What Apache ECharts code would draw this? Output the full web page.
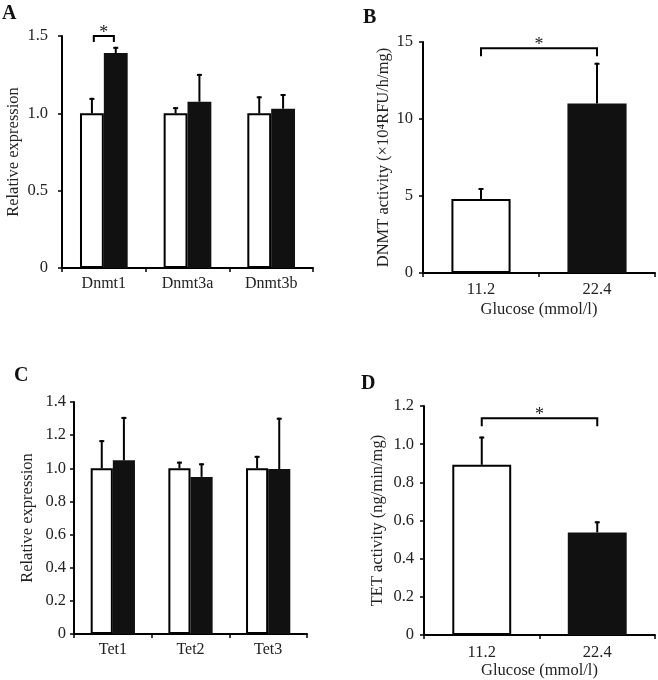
<!DOCTYPE html>
<html>
<head>
<meta charset="utf-8">
<script src="https://cdn.jsdelivr.net/npm/echarts@6/dist/echarts.min.js"></script>
<style>html,body{margin:0;padding:0;background:#fff}#c{width:658px;height:680px}</style>
</head>
<body>
<div id="c"></div>
<script>
// ---- Data ----
const dnmtCats = ['Dnmt1', 'Dnmt3a', 'Dnmt3b'];
const dnmtLow = [1.0, 1.0, 1.0];
const dnmtLowErr = [0.10, 0.04, 0.11];
const dnmtHigh = [1.39, 1.075, 1.03];
const dnmtHighErr = [0.04, 0.18, 0.095];
const dnmtSig = [[0, 1.5]];            // [category, bracket level]

const glucoseCats = ['11.2', '22.4'];
const dnmtActivity = [4.8, 11.0];
const dnmtActivityErr = [0.72, 2.65];
const dnmtActSig = [[0, 1, 14.6]];     // [from, to, level]

const tetCats = ['Tet1', 'Tet2', 'Tet3'];
const tetLow = [1.0, 1.0, 1.0];
const tetLowErr = [0.17, 0.04, 0.075];
const tetHigh = [1.048, 0.948, 0.995];
const tetHighErr = [0.262, 0.082, 0.31];

const tetActivity = [0.892, 0.538];
const tetActivityErr = [0.148, 0.058];
const tetActSig = [[0, 1, 1.136]];

const ticksA = [0, 0.5, 1.0, 1.5];
const ticksB = [0, 5, 10, 15];
const ticksC = [0, 0.2, 0.4, 0.6, 0.8, 1.0, 1.2, 1.4];
const ticksD = [0, 0.2, 0.4, 0.6, 0.8, 1.0, 1.2];

// ---- Styles ----
const FONT = '"Liberation Serif", "Times New Roman", serif';
const TXT = '#222';
const BLACK = '#111';

const chart = echarts.init(document.getElementById('c'));

function xAx(i, cats, opt) {
  return Object.assign({
    type: 'category', gridIndex: i, data: cats,
    axisLine: { show: true, lineStyle: { color: '#000', width: 2 } },
    axisTick: { show: true, length: 4, lineStyle: { color: '#000', width: 1.5 } },
    axisLabel: { fontFamily: FONT, fontSize: 16, color: TXT, margin: 8 },
    splitLine: { show: false }
  }, opt || {});
}
function yAx(i, ticks, name, gap, margin, fmt) {
  return {
    type: 'value', gridIndex: i, min: ticks[0], max: ticks[ticks.length - 1],
    interval: ticks[1] - ticks[0],
    name: name, nameLocation: 'middle', nameGap: gap,
    nameTextStyle: { fontFamily: FONT, fontSize: 16.5, color: TXT },
    axisLine: { show: true, lineStyle: { color: '#000', width: 2 } },
    axisTick: { show: true, length: 4, lineStyle: { color: '#000', width: 1.5 } },
    axisLabel: { fontFamily: FONT, fontSize: 16.5, color: TXT, margin: margin, formatter: fmt },
    splitLine: { show: false }
  };
}
const fmt1 = v => v === 0 ? '0' : v.toFixed(1);
const fmt0 = v => String(v);

function errSeries(ax, mean, err, offset) {
  return {
    type: 'custom', xAxisIndex: ax, yAxisIndex: ax, z: 5, silent: true,
    data: mean.map((m, i) => [i, m, err[i]]),
    encode: { x: 0, y: 1 },
    renderItem: function (p, api) {
      const i = api.value(0), m = api.value(1), e = api.value(2);
      const w = api.size([1, 0])[0];
      const b = api.coord([i, m]);
      const t = api.coord([i, m + e]);
      const x = b[0] + offset * w;
      return {
        type: 'group', children: [
          { type: 'line', shape: { x1: x, y1: b[1], x2: x, y2: t[1] }, style: { stroke: '#000', lineWidth: 2 } },
          { type: 'line', shape: { x1: x - 2.5, y1: t[1] + 1, x2: x + 2.5, y2: t[1] + 1 }, style: { stroke: '#000', lineWidth: 2 } }
        ]
      };
    }
  };
}

function bracket(x1, x2, y, leg) {
  return {
    type: 'group', children: [
      { type: 'polyline', shape: { points: [[x1, y + leg], [x1, y], [x2, y], [x2, y + leg]] },
        style: { stroke: '#000', lineWidth: 2, fill: null } },
      { type: 'text', x: (x1 + x2) / 2, y: y + 6,
        style: { text: '*', font: '18px ' + FONT, fill: TXT, align: 'center', verticalAlign: 'bottom' } }
    ]
  };
}

// within-category bracket (between the two bars of a group)
function sigWithin(ax, data, halfSpan) {
  return {
    type: 'custom', xAxisIndex: ax, yAxisIndex: ax, z: 6, silent: true,
    data: data, encode: { x: 0, y: 1 },
    renderItem: function (p, api) {
      const c = api.coord([api.value(0), api.value(1)]);
      const w = api.size([1, 0])[0];
      return bracket(c[0] - halfSpan * w, c[0] + halfSpan * w, c[1], 6);
    }
  };
}
// between-category bracket
function sigBetween(ax, data) {
  return {
    type: 'custom', xAxisIndex: ax, yAxisIndex: ax, z: 6, silent: true,
    data: data, encode: { x: 0, y: 2 },
    renderItem: function (p, api) {
      const a = api.coord([api.value(0), api.value(2)]);
      const b = api.coord([api.value(1), api.value(2)]);
      return bracket(a[0], b[0], a[1], 8);
    }
  };
}

const whiteStyle = { color: '#fff', borderColor: '#000', borderWidth: 2 };
const blackStyle = { color: BLACK, borderColor: BLACK, borderWidth: 0 };

function barPair(ax, low, high) {
  return [
    { type: 'bar', xAxisIndex: ax, yAxisIndex: ax, data: low, barWidth: '28.5%', barGap: '0%', itemStyle: whiteStyle, silent: true },
    { type: 'bar', xAxisIndex: ax, yAxisIndex: ax, data: high, barWidth: '28.5%', barGap: '0%', itemStyle: blackStyle, silent: true }
  ];
}
function barSingle(ax, vals) {
  return {
    type: 'bar', xAxisIndex: ax, yAxisIndex: ax, barWidth: '51%', silent: true,
    data: vals.map((v, i) => ({ value: v, itemStyle: i === 0 ? whiteStyle : blackStyle }))
  };
}

const letter = (t, x, y) => ({ type: 'text', left: x, top: y, style: { text: t, font: 'bold 20px ' + FONT, fill: BLACK } });

chart.setOption({
  animation: false,
  backgroundColor: '#fff',
  grid: [
    { left: 62, top: 36, width: 251, height: 232 },
    { left: 423, top: 42, width: 232, height: 231 },
    { left: 74, top: 402, width: 233, height: 232 },
    { left: 424, top: 406, width: 231, height: 230 }
  ],
  xAxis: [
    xAx(0, dnmtCats),
    xAx(1, glucoseCats, { name: 'Glucose (mmol/l)', nameLocation: 'middle', nameGap: 28,
      nameTextStyle: { fontFamily: FONT, fontSize: 16.5, color: TXT }, axisLabel: { fontFamily: FONT, fontSize: 16.5, color: TXT, margin: 8 } }),
    xAx(2, tetCats),
    xAx(3, glucoseCats, { name: 'Glucose (mmol/l)', nameLocation: 'middle', nameGap: 26,
      nameTextStyle: { fontFamily: FONT, fontSize: 16.5, color: TXT }, axisLabel: { fontFamily: FONT, fontSize: 16.5, color: TXT, margin: 9 } })
  ],
  yAxis: [
    yAx(0, ticksA, 'Relative expression', 40, 14, fmt1),
    yAx(1, ticksB, 'DNMT activity (×10⁴RFU/h/mg)', 27, 10, fmt0),
    yAx(2, ticksC, 'Relative expression', 38, 8, fmt1),
    yAx(3, ticksD, 'TET activity (ng/min/mg)', 38, 10, fmt1)
  ],
  series: [
    ...barPair(0, dnmtLow, dnmtHigh),
    errSeries(0, dnmtLow, dnmtLowErr, -0.1425),
    errSeries(0, dnmtHigh, dnmtHighErr, 0.1425),
    sigWithin(0, dnmtSig, 0.12),
    barSingle(1, dnmtActivity),
    errSeries(1, dnmtActivity, dnmtActivityErr, 0),
    sigBetween(1, dnmtActSig),
    ...barPair(2, tetLow, tetHigh),
    errSeries(2, tetLow, tetLowErr, -0.1425),
    errSeries(2, tetHigh, tetHighErr, 0.1425),
    barSingle(3, tetActivity),
    errSeries(3, tetActivity, tetActivityErr, 0),
    sigBetween(3, tetActSig)
  ],
  graphic: [
    letter('A', 2, 4),
    letter('B', 363, 8),
    letter('C', 14, 366),
    letter('D', 361, 374)
  ]
});
</script>
</body>
</html>
